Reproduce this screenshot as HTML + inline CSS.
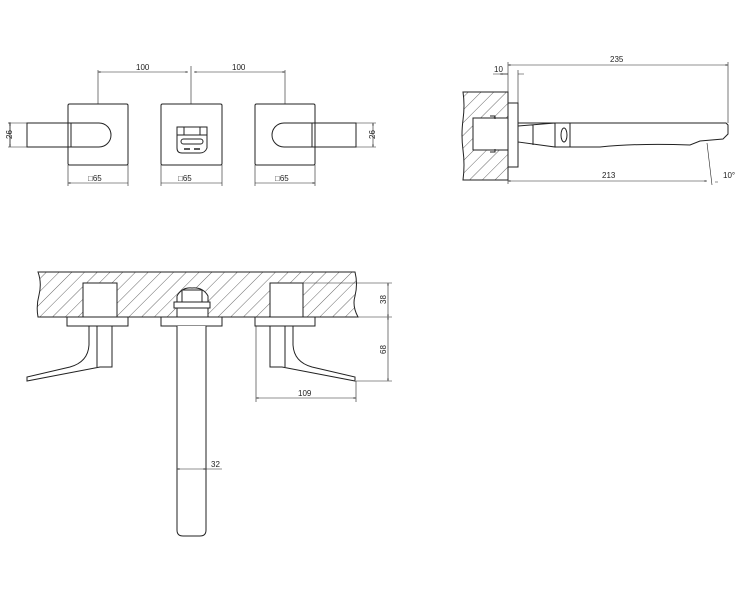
<!DOCTYPE html>
<html><head><meta charset="utf-8"><style>body{margin:0;background:#fff}svg{display:block}text{font-family:"Liberation Sans",sans-serif;font-size:8px;fill:#222}</style></head><body>
<svg width="750" height="599" viewBox="0 0 750 599" xmlns="http://www.w3.org/2000/svg">
<defs>
<pattern id="h" width="9" height="9" patternUnits="userSpaceOnUse" patternTransform="rotate(45)"><line x1="0" y1="0" x2="0" y2="9" stroke="#444" stroke-width="0.8"/></pattern>
<marker id="a" viewBox="0 0 10 10" refX="10" refY="5" markerWidth="6" markerHeight="4" orient="auto-start-reverse"><path d="M0,2 L10,5 L0,8z" fill="#222"/></marker>
</defs>
<g fill="none" stroke="#222" stroke-width="1">
<!-- front view -->
<rect x="68" y="104" width="60" height="61" rx="1.5"/>
<rect x="161" y="104" width="61" height="61" rx="1.5"/>
<rect x="255" y="104" width="60" height="61" rx="1.5"/>
<path d="M27,123 H99 A12,12 0 0 1 99,147 H27z M71,123 V147"/>
<path d="M356,123 H284 A12,12 0 0 0 284,147 H356z M312,123 V147"/>
<path d="M177,127 H207 V148 Q205,153 200,153 H182 Q177,153 177,148z M177,135 H207 M184,127 V135 M200,127 V135"/>
<rect x="181" y="139" width="22" height="5" rx="2.5"/>
<path d="M184,149 H190 M194,149 H200" stroke-width="1.5"/>
<g stroke-width="0.6">
<path d="M98,104 V70 M191,104 V66 M285,104 V70"/>
<path d="M98,72 H188" marker-start="url(#a)" marker-end="url(#a)"/>
<path d="M194,72 H285" marker-start="url(#a)" marker-end="url(#a)"/>
<path d="M68,165 V186 M128,165 V186 M161,165 V186 M222,165 V186 M255,165 V186 M315,165 V186"/>
<path d="M68,183 H128 M161,183 H222 M255,183 H315" marker-start="url(#a)" marker-end="url(#a)"/>
<path d="M8,123 H27 M8,147 H27 M10,123 V147" marker-start="url(#a)"/>
<path d="M10,123 V147" marker-start="url(#a)" marker-end="url(#a)"/>
<path d="M356,123 H376 M356,147 H376"/>
<path d="M373,123 V147" marker-start="url(#a)" marker-end="url(#a)"/>
</g>
</g>
<text x="136" y="70">100</text><text x="232" y="70">100</text>
<text x="88" y="181">□65</text><text x="178" y="181">□65</text><text x="275" y="181">□65</text>
<text transform="translate(12,139) rotate(-90)">26</text>
<text transform="translate(375,139) rotate(-90)">26</text>
<!-- side view -->
<path d="M463,92 H508 V180 H463 Q465,165 463,150 Q461,135 463,120 Q465,105 463,92z" fill="url(#h)" stroke="#222" stroke-width="1"/>
<g fill="none" stroke="#222" stroke-width="1">
<rect x="473" y="118" width="37" height="32" fill="#fff"/>
<path d="M490,116 h5 v3 M490,152 h5 v-3"/>
<rect x="508" y="103" width="10" height="64" fill="#fff"/>
<path d="M518,123 H726 L728,125 V134 L723,139 L700,141 L690,145 Q640,143 600,147 H570 V123"/>
<path d="M518,126 L555,123 V147 L518,142z M533,125 V145 M518,129 V140"/>
<rect x="555" y="123" width="15" height="24"/>
<ellipse cx="564" cy="135" rx="3" ry="7"/>
<g stroke-width="0.6">
<path d="M508,103 V62 M518,103 V70 M728,123 V62 M508,167 V184"/>
<path d="M508,65 H728" marker-start="url(#a)" marker-end="url(#a)"/>
<path d="M493,74 H508 M518,74 H524" />
<path d="M508,74 H500" marker-end="url(#a)"/>
<path d="M508,181 H707" marker-start="url(#a)" marker-end="url(#a)"/>
<path d="M707,143 L712,185 M715,182 L718,182"/>
</g>
</g>
<text x="610" y="62">235</text><text x="494" y="72">10</text><text x="602" y="178">213</text><text x="723" y="178">10°</text>
<!-- bottom view -->
<path d="M38,272 H355 Q358,284 355,296 Q352,306 358,317 H38 Q36,306 39,295 Q42,283 38,272z" fill="url(#h)" stroke="#222" stroke-width="1"/>
<g fill="#fff" stroke="#222" stroke-width="1">
<rect x="83" y="283" width="34" height="34"/>
<rect x="270" y="283" width="33" height="34"/>
<path d="M177,317 V296 Q182,287 192,288 Q203,287 208,296 V317z"/>
<rect x="182" y="290" width="20" height="12"/>
<rect x="174" y="302" width="36" height="6"/>
<rect x="67" y="317" width="61" height="9"/>
<rect x="161" y="317" width="61" height="9"/>
<rect x="255" y="317" width="60" height="9"/>
<path d="M177,326 V530 Q177,536 183,536 H200 Q206,536 206,530 V326"/>
<path d="M89,326 V345 Q88,362 70,367 L27,377 L27,381 L100,367 H112 V326z M97,326 V367"/>
<path d="M293,326 V345 Q294,362 312,367 L355,377 L355,381 L282,367 H270 V326z M285,326 V367"/>
</g>
<g fill="none" stroke="#222" stroke-width="0.6">
<path d="M303,283 H392 M358,317 H392 M356,381 H392 M256,326 V402 M356,381 V402 M206,469 H222"/>
<path d="M388,283 V317" marker-start="url(#a)" marker-end="url(#a)"/>
<path d="M388,317 V381" marker-start="url(#a)" marker-end="url(#a)"/>
<path d="M256,398 H356" marker-start="url(#a)" marker-end="url(#a)"/>
<path d="M177,469 H206" marker-start="url(#a)" marker-end="url(#a)"/>
</g>
<text transform="translate(386,304) rotate(-90)">38</text>
<text transform="translate(386,354) rotate(-90)">68</text>
<text x="298" y="396">109</text><text x="211" y="467">32</text>
</svg>
</body></html>
